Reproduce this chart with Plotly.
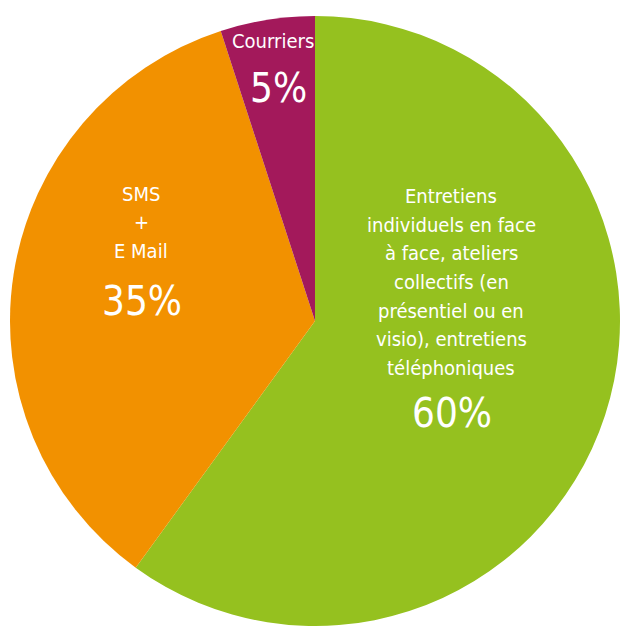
import plotly.graph_objects as go

labels = ["Entretiens<br>individuels en face<br>à face, ateliers<br>collectifs (en<br>présentiel ou en<br>visio), entretiens<br>téléphoniques",
          "SMS<br>+<br>E Mail",
          "Courriers"]
values = [60, 35, 5]
colors = ["#95C11F", "#F29100", "#A3195B"]

W, H = 620, 626
# label block: (center x, first line y) in px; percentage: (center x, y)
label_pos = [(451, 196.5), (141, 194), (273, 41)]
pct_pos = [(452, 413), (142, 301), (278, 88)]
LINE_GAP = 28.5

FONT = "DejaVu Sans Condensed, Roboto, sans-serif"

fig = go.Figure(go.Pie(
    labels=[l.replace("<br>", " ") for l in labels],
    values=values,
    marker=dict(colors=colors, line=dict(width=0)),
    sort=False,
    direction="clockwise",
    rotation=0,
    textinfo="none",
    hoverinfo="label+percent",
    showlegend=False,
    domain=dict(x=[10 / W, 1.0], y=[0.0, 1 - 16 / H]),
))

total = sum(values)
annotations = []
for lab, v, (lx, ly), (px, py) in zip(labels, values, label_pos, pct_pos):
    for i, line in enumerate(lab.split("<br>")):
        annotations.append(dict(text=line, x=lx / W, y=1 - (ly + i * LINE_GAP) / H,
                                xref="paper", yref="paper",
                                xanchor="center", yanchor="middle", showarrow=False,
                                font=dict(family=FONT, size=20, color="white")))
    annotations.append(dict(text=f"{round(v / total * 100)}%", x=px / W, y=1 - py / H,
                            xref="paper", yref="paper", xanchor="center", yanchor="middle",
                            showarrow=False, font=dict(family=FONT, size=40, color="white")))

fig.update_layout(width=W, height=H, margin=dict(l=0, r=0, t=0, b=0),
                  paper_bgcolor="white", plot_bgcolor="white", annotations=annotations)

fig.write_html("out.html", config={"displayModeBar": False},
               post_script="document.body.style.margin='0';document.body.style.overflow='hidden';")
